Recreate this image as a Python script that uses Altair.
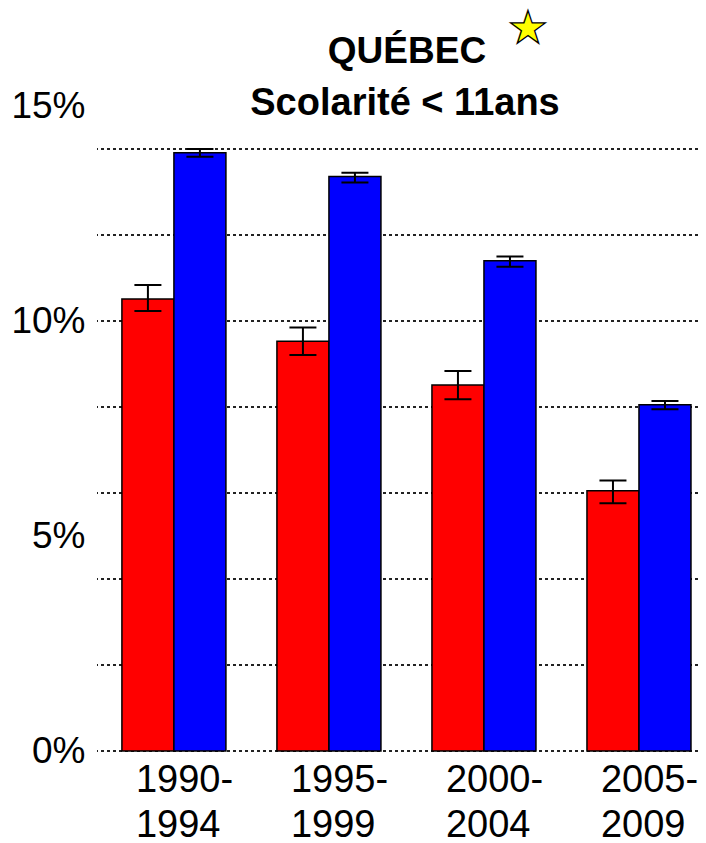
import altair as alt
import pandas as pd

# Data (percent)
periods = ["1990-1994", "1995-1999", "2000-2004", "2005-2009"]
series = ["rouge", "bleu"]
red_values = [10.51, 9.53, 8.51, 6.05]
red_low = [10.23, 9.21, 8.18, 5.76]
red_high = [10.84, 9.85, 8.84, 6.29]
blue_values = [13.91, 13.36, 11.40, 8.05]
blue_low = [13.82, 13.22, 11.26, 7.95]
blue_high = [14.00, 13.45, 11.50, 8.14]
y_labels = [0, 5, 10, 15]
grid_values = [0, 2, 4, 6, 8, 10, 12, 14]
title_line1 = ["QUÉBEC"]
title_line2 = ["Scolarité < 11ans"]
star_text = ["★"]

rows = []
for i, p in enumerate(periods):
    rows.append({"period": p, "series": "rouge", "value": red_values[i], "lo": red_low[i], "hi": red_high[i]})
    rows.append({"period": p, "series": "bleu", "value": blue_values[i], "lo": blue_low[i], "hi": blue_high[i]})
df = pd.DataFrame(rows)
grid_df = pd.DataFrame({"g": grid_values})
star_df = pd.DataFrame({"s": star_text})
t1_df = pd.DataFrame({"t": title_line1})
t2_df = pd.DataFrame({"t": title_line2})

FONT = "Liberation Sans"

yscale = alt.Scale(domain=[0, 15], nice=False, zero=True)
yaxis = alt.Axis(
    values=y_labels,
    labelExpr="datum.value + '%'",
    grid=False,
    domain=False,
    ticks=False,
    title=None,
    labelFontSize=37,
    labelPadding=12,
    labelColor="black",
    labelFont=FONT,
)

x_enc = alt.X(
    "period:N",
    sort=periods,
    scale=alt.Scale(paddingInner=0.329, paddingOuter=0.103, align=0.78),
    axis=alt.Axis(
        title=None,
        labelExpr="[slice(datum.label, 0, 5), slice(datum.label, 5)]",
        labelFontSize=38,
        labelLineHeight=45,
        labelAlign="left",
        labelOffset=-38,
        labelPadding=10,
        labelAngle=0,
        labelColor="black",
        labelFont=FONT,
        domain=False,
        ticks=False,
    ),
)
xo_enc = alt.XOffset("series:N", sort=series, scale=alt.Scale(paddingInner=0, paddingOuter=0))

base = alt.Chart(df)

grid = alt.Chart(grid_df).mark_rule(strokeDash=[3, 3], strokeWidth=2, color="#222222").encode(
    y=alt.Y("g:Q", scale=yscale, axis=yaxis)
)

bars = base.mark_bar(stroke="black", strokeWidth=1.5).encode(
    x=x_enc,
    xOffset=xo_enc,
    y=alt.Y("value:Q", scale=yscale, axis=yaxis),
    color=alt.Color("series:N", scale=alt.Scale(domain=series, range=["#FF0000", "#0000FF"]), legend=None),
)

err = base.mark_rule(color="black", strokeWidth=2).encode(
    x=x_enc, xOffset=xo_enc, y=alt.Y("lo:Q", scale=yscale, axis=yaxis), y2="hi:Q"
)
cap_hi = base.mark_bar(width=27, fill="black", stroke="black", strokeWidth=2).encode(
    x=x_enc, xOffset=xo_enc, y=alt.Y("hi:Q", scale=yscale, axis=yaxis), y2="hi:Q"
)
cap_lo = base.mark_bar(width=27, fill="black", stroke="black", strokeWidth=2).encode(
    x=x_enc, xOffset=xo_enc, y=alt.Y("lo:Q", scale=yscale, axis=yaxis), y2="lo:Q"
)

star = alt.Chart(star_df).mark_text(
    font="DejaVu Sans", fontSize=45, fill="#FFFF00", stroke="black", strokeWidth=1.3,
    align="center", baseline="middle",
).encode(text="s:N", x=alt.value(431), y=alt.value(-77))

title1 = alt.Chart(t1_df).mark_text(
    font=FONT, fontSize=37, fontWeight="bold", color="black", align="center", baseline="alphabetic"
).encode(text="t:N", x=alt.value(310), y=alt.value(-43))

title2 = alt.Chart(t2_df).mark_text(
    font=FONT, fontSize=38, fontWeight="bold", color="black", align="center", baseline="alphabetic"
).encode(text="t:N", x=alt.value(308), y=alt.value(9))

chart = alt.layer(grid, bars, err, cap_hi, cap_lo, star, title1, title2).properties(
    width=601,
    height=645,
    autosize=alt.AutoSizeParams(type="none"),
    padding={"left": 89, "top": 98, "right": 0, "bottom": 94},
).configure(font=FONT, view=alt.ViewConfig(stroke=None))

chart.save("out.html", embed_options={"renderer": "svg", "actions": False})
